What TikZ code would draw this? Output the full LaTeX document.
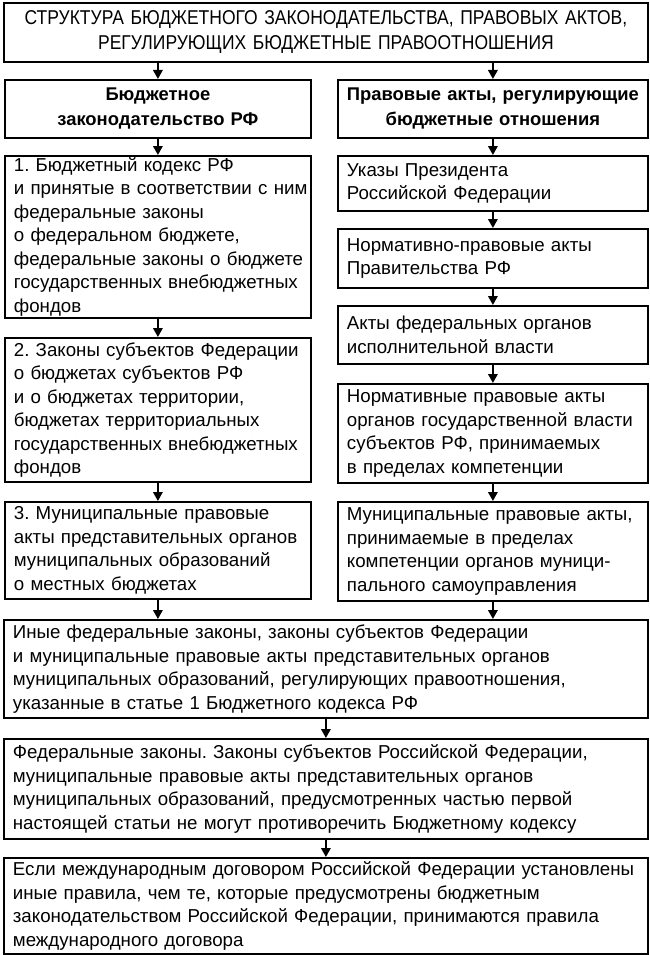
\documentclass[tikz,border=0pt]{standalone}
\usepackage{fontspec}
\setmainfont{Liberation Sans}
\newfontfamily\narrowfont[FakeStretch=0.875]{Liberation Sans}
\usetikzlibrary{arrows.meta}
\begin{document}
\frenchspacing
\begin{tikzpicture}[x=1pt,y=-1pt,
  box/.style={draw, line width=1.8pt, anchor=north west, inner xsep=9pt, inner ysep=1pt,
    align=left, font=\fontsize{18.7}{23.5}\selectfont},
  colL/.style={box, text width=288pt},
  colR/.style={box, text width=292pt},
  wide/.style={box, text width=626pt},
  head/.style={align=center, font=\bfseries\fontsize{18.4}{25}\selectfont},
  arr/.style={line width=1.8pt, -{Triangle[length=9pt,width=9.5pt]}}
]
\useasboundingbox (0,0) rectangle (649,955);

\node[wide, minimum height=59pt, align=center, font=\narrowfont\fontsize{20}{25}\selectfont] (title) at (3,2)
  {\mbox{СТРУКТУРА БЮДЖЕТНОГО ЗАКОНОДАТЕЛЬСТВА, ПРАВОВЫХ АКТОВ,}\\ РЕГУЛИРУЮЩИХ БЮДЖЕТНЫЕ ПРАВООТНОШЕНИЯ};

\node[colL, head, minimum height=58pt] (hl) at (4,79) {Бюджетное\\ законодательство РФ};
\node[colR, head, minimum height=58pt] (hr) at (337,79) {Правовые акты, регулирующие\\ бюджетные отношения};

\node[colL, minimum height=162pt] (l1) at (4,155)
  {1. Бюджетный кодекс РФ\\ \mbox{и принятые в соответствии с ним}\\ федеральные законы\\ о федеральном бюджете,\\ \mbox{федеральные законы о бюджете}\\ \mbox{государственных внебюджетных}\\ фондов};
\node[colL, minimum height=144pt] (l2) at (4,337)
  {\mbox{2. Законы субъектов Федерации}\\ о бюджетах субъектов РФ\\ и о бюджетах территории,\\ бюджетах территориальных\\ \mbox{государственных внебюджетных}\\ фондов};
\node[colL, minimum height=97pt] (l3) at (4,501)
  {3. Муниципальные правовые\\ \mbox{акты представительных органов}\\ муниципальных образований\\ о местных бюджетах};

\node[colR, minimum height=55pt] (r1) at (337,155) {Указы Президента\\ Российской Федерации};
\node[colR, minimum height=59pt] (r2) at (337,228) {Нормативно-правовые акты\\ Правительства РФ};
\node[colR, minimum height=58pt] (r3) at (337,305) {Акты федеральных органов\\ исполнительной власти};
\node[colR, minimum height=99pt] (r4) at (337,383)
  {Нормативные правовые акты\\ \mbox{органов государственной власти}\\ субъектов РФ, принимаемых\\ в пределах компетенции};
\node[colR, minimum height=99pt] (r5) at (337,501)
  {\mbox{Муниципальные правовые акты,}\\ принимаемые в пределах\\ компетенции органов муници-\\ пального самоуправления};

\node[wide, minimum height=98pt] (b1) at (3,619)
  {Иные федеральные законы, законы субъектов Федерации\\ и муниципальные правовые акты представительных органов\\ \mbox{муниципальных образований, регулирующих правоотношения,}\\ указанные в статье 1 Бюджетного кодекса РФ};
\node[wide, minimum height=100pt] (b2) at (3,738)
  {\mbox{Федеральные законы. Законы субъектов Российской Федерации,}\\ муниципальные правовые акты представительных органов\\ \mbox{муниципальных образований, предусмотренных частью первой}\\ \mbox{настоящей статьи не могут противоречить Бюджетному кодексу}};
\node[wide, minimum height=96pt] (b3) at (3,857)
  {\mbox{Если международным договором Российской Федерации установлены}\\ иные правила, чем те, которые предусмотрены бюджетным\\ \mbox{законодательством Российской Федерации, принимаются правила}\\ международного договора};

\draw[arr] (hl.north |- title.south) -- (hl.north);
\draw[arr] (hr.north |- title.south) -- (hr.north);
\draw[arr] (hl) -- (l1);
\draw[arr] (l1) -- (l2);
\draw[arr] (l2) -- (l3);
\draw[arr] (l3.south) -- (l3.south |- b1.north);
\draw[arr] (hr) -- (r1);
\draw[arr] (r1) -- (r2);
\draw[arr] (r2) -- (r3);
\draw[arr] (r3) -- (r4);
\draw[arr] (r4) -- (r5);
\draw[arr] (r5.south) -- (r5.south |- b1.north);
\draw[arr] (b1) -- (b2);
\draw[arr] (b2) -- (b3);
\end{tikzpicture}
\end{document}
